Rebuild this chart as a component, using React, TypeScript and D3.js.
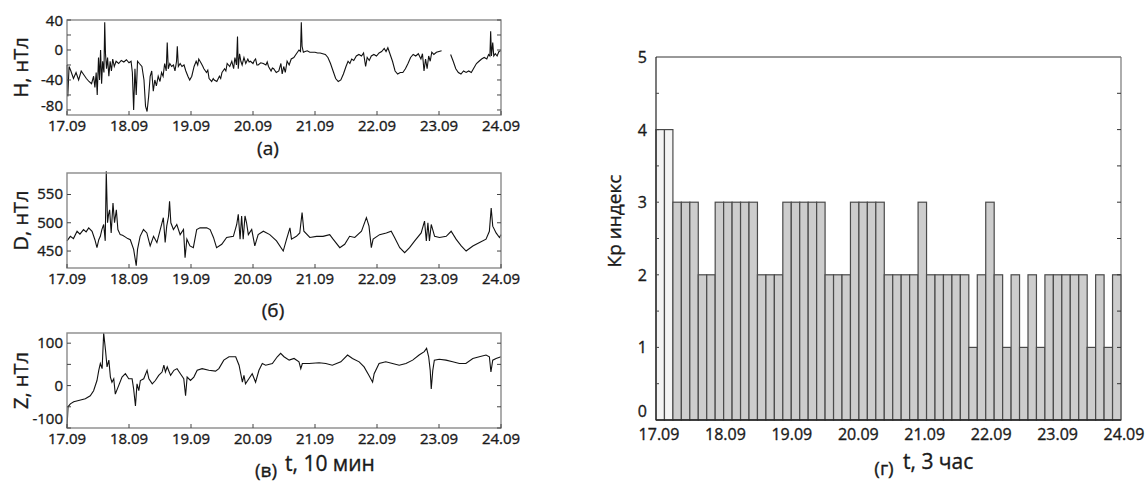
import React from 'react';
import * as d3 from 'd3';

// day ticks shared by all four panels
const dayLabels = ['17.09', '18.09', '19.09', '20.09', '21.09', '22.09', '23.09', '24.09'];

// [hours since 17.09 00:00, nT]; null = data gap
const hSeries: [number, number | null][] = [
  [0, -20], [0.3, -62], [0.8, -22], [1.5, -28], [2.5, -38], [3.5, -30], [4.5, -40], [5.5, -28],
  [6.5, -33], [7.5, -38], [8.5, -42], [9.5, -45], [10.3, -35], [10.8, -50], [11.3, -30], [11.7, -60],
  [12.2, -10], [12.6, -40], [13, 0], [13.4, -45], [13.8, -15], [14.3, -30], [14.6, 37], [14.9, -5],
  [15.3, -25], [15.7, -10], [16.2, -35], [16.7, -15], [17.2, -28], [17.7, -12], [18.3, -22], [19, -15],
  [20, -18], [21, -14], [22, -16], [23, -13], [24, -17], [24.8, -15], [25.3, -30], [25.8, -80],
  [26.3, -25], [26.8, -60], [27.3, -15], [28, -18], [29, -22], [29.8, -40], [30.4, -75], [31, -82],
  [31.6, -62], [32.2, -35], [32.8, -28], [33.4, -55], [34, -40], [34.6, -48], [35.3, -35], [36, -42],
  [36.6, -30], [37.2, -35], [37.8, -18], [38.4, -28], [38.8, 10], [39.2, -25], [39.8, -18], [40.5, -22],
  [41.2, -20], [41.8, -28], [42.4, -15], [42.7, 5], [43.1, -22], [43.8, -18], [44.5, -22], [45.3, -20],
  [46, -28], [46.8, -35], [47.5, -40], [48.3, -35], [49.2, -22], [50, -15], [50.6, -20], [51, -12],
  [52, -18], [52.6, -22], [53, -25], [54, -30], [54.5, -27], [55, -38], [56, -42], [56.6, -38],
  [57, -40], [58, -42], [59, -35], [59.5, -38], [60, -30], [61, -25], [61.5, -28], [62, -18],
  [63, -22], [63.8, -15], [64.5, -25], [65, -10], [65.6, -20], [66, 18], [66.3, -25], [66.8, -5],
  [67.3, -15], [67.8, -20], [68.5, -10], [69.2, -18], [70, -12], [70.5, -16], [71, -15], [72, -18],
  [72.5, -14], [73, -12], [73.5, -20], [74, -20], [75, -17], [76, -18], [77, -20], [77.5, -16],
  [78, -22], [79, -28], [79.5, -24], [80, -25], [81, -30], [82, -28], [82.8, -18], [83.3, -32],
  [83.9, -22], [84.5, -30], [85.2, -15], [86, -20], [86.8, -12], [87.8, -10], [88.8, -5], [89.8, 0],
  [90.4, -2], [90.7, 37], [91, 5], [91.5, -3], [92.2, -2], [93, -1], [94, -3], [95, -3],
  [96, -3], [97, -4], [98, -4], [99, -5], [100, -6], [101, -10], [102, -18], [103, -28],
  [104, -38], [105, -42], [106, -40], [107, -32], [108, -22], [108.8, -15], [109.5, -18], [110.2, -12],
  [111, -14], [112, -8], [113, -6], [114, -8], [114.8, -4], [115.6, -22], [116.2, -10], [117, -14],
  [117.8, -8], [118.8, -6], [119.8, -8], [120.8, -4], [121.8, -2], [122.8, 2], [123.5, -2], [124.2, 3],
  [125, -5], [126, -15], [127, -28], [128, -32], [129, -30], [130, -30], [131, -25], [132, -18],
  [133, -10], [134, -6], [135, -8], [136, -5], [137, -12], [137.6, -5], [138.2, -28], [138.8, -12],
  [139.4, -25], [140, -8], [140.6, -15], [141.2, -3], [142, -6], [143, -3], [144, -2], [145, -1],
  [146.5, null], [148.5, -6], [149.5, -15], [150.5, -25], [151.5, -30], [152.5, -32], [153.5, -28], [154.5, -30],
  [155.5, -28], [156.5, -30], [157.5, -24], [158.5, -18], [159.5, -15], [160.5, -12], [161.5, -10], [162.5, -12],
  [163.2, -6], [163.7, -8], [164, 25], [164.3, -8], [164.8, 10], [165.2, -8], [165.8, -5], [166.5, -8],
  [167.2, -2], [168, -1],
];

const dSeries: [number, number | null][] = [
  [0, 468], [1.3, 476], [2.5, 472], [3.9, 485], [5, 480], [6.4, 488], [7.4, 484], [8.4, 491],
  [9.7, 485], [10.8, 470], [11.6, 456], [12.3, 470], [12.9, 476], [13.5, 488], [14.2, 497], [14.8, 468],
  [15.2, 591], [15.7, 500], [16.1, 515], [16.5, 523], [17.1, 482], [17.8, 535], [18.4, 500], [19.1, 523],
  [19.7, 488], [20.6, 479], [21.5, 478], [22.5, 475], [23.5, 472], [24.5, 470], [25.8, 453], [26.8, 424],
  [27.3, 453], [28.3, 476], [29.6, 488], [30.9, 482], [32.2, 459], [33.5, 476], [34.8, 465], [36.1, 488],
  [37.3, 509], [38, 465], [38.6, 494], [39.3, 511], [39.7, 538], [40.2, 500], [41.2, 488], [42.5, 497],
  [43.8, 479], [45.1, 488], [45.7, 438], [46.4, 471], [47.6, 459], [48.9, 456], [50.2, 488], [51.5, 491],
  [54.1, 491], [55.4, 488], [56.7, 474], [57.9, 456], [59.9, 462], [61.8, 474], [64.4, 476], [65.7, 497],
  [66.3, 515], [67, 471], [67.6, 512], [68.2, 471], [68.9, 512], [69.5, 500], [70.2, 479], [71.5, 488],
  [72.7, 459], [74, 479], [76, 485], [78.5, 479], [81.1, 468], [83.7, 450], [85, 471], [86.3, 491],
  [86.9, 471], [88.8, 476], [90.1, 482], [91, 518], [91.7, 485], [94, 474], [96.6, 476], [99.1, 476],
  [101.7, 479], [103, 471], [105.6, 456], [107.5, 462], [109.4, 476], [111.4, 474], [114, 485], [115.9, 509],
  [116.9, 494], [117.8, 456], [118.5, 471], [121, 479], [123.6, 482], [125.5, 485], [126.8, 474], [128.8, 456],
  [130.7, 447], [132.6, 456], [134.6, 468], [137.1, 482], [138.4, 503], [139.1, 468], [139.7, 500], [140.3, 468],
  [141, 497], [142.3, 476], [144.2, 474], [146.8, 476], [148.7, 485], [150.6, 471], [152.6, 459], [154.5, 450],
  [157.1, 459], [159.7, 465], [162.2, 471], [163.5, 485], [164.2, 526], [164.8, 494], [166.1, 482], [167.4, 474],
  [168, 479],
];

const zSeries: [number, number | null][] = [
  [0, -100], [0.4, -50], [1.3, -43], [2.6, -38], [4.5, -35], [7.1, -31], [9, -24], [10.3, -12],
  [11.6, 12], [12.3, 36], [12.9, 52], [13.6, 40], [14.2, 124], [14.9, 84], [15.5, 44], [16.2, 60],
  [16.8, 20], [17.4, 8], [18.1, 16], [18.7, -20], [20, 0], [21.3, 20], [22.6, 28], [23.9, 16],
  [25.2, 16], [25.8, -8], [26.5, -48], [27.1, 4], [27.8, -12], [28.4, 12], [29.7, 16], [31, 36],
  [31.7, 16], [33, 4], [34.2, 12], [35.5, 24], [36.8, 32], [37.5, 48], [38.1, 32], [38.8, 44],
  [40.1, 24], [41.4, 36], [42.6, 40], [43.9, 28], [45.2, 16], [45.9, -24], [46.5, 20], [47.8, 12],
  [49.1, 20], [50.4, 36], [52.3, 40], [54.9, 36], [57.5, 34], [58.8, 40], [60.7, 60], [62.7, 68],
  [65.3, 68], [66.6, 48], [67.9, 8], [68.5, 24], [69.1, 4], [70.4, 16], [71.7, 28], [73, 8],
  [74.3, 36], [75.6, 52], [76.9, 48], [79.5, 52], [81.4, 68], [82.7, 76], [84, 68], [86, 60],
  [87.9, 64], [89.8, 56], [90.5, 40], [91.1, 52], [93.7, 52], [97.6, 54], [100.2, 52], [102.7, 48],
  [106, 56], [108.6, 72], [110.5, 64], [113.1, 56], [115, 44], [116.9, 24], [118.3, 8], [118.9, 28],
  [120.8, 52], [123.4, 56], [126, 52], [128.6, 48], [131.2, 52], [133.8, 60], [136.3, 72], [138.3, 80],
  [139.2, 88], [140, 68], [140.6, 36], [141, -8], [141.6, 36], [142.2, 60], [144.1, 62], [146.7, 60],
  [149.3, 56], [151.9, 52], [154.4, 52], [157.1, 64], [159.6, 68], [162.2, 72], [163.5, 68], [164.1, 32],
  [164.8, 60], [166.1, 64], [168, 68],
];

// 3-hour Kp index
const kpValues = [
  4, 4, 3, 3, 3, 2, 2, 3, 3, 3, 3, 3, 2, 2, 2, 3, 3, 3, 3, 3, 2, 2, 2, 3, 3, 3, 3, 2,
  2, 2, 2, 3, 2, 2, 2, 2, 2, 1, 2, 3, 2, 1, 2, 1, 2, 1, 2, 2, 2, 2, 2, 1, 2, 1, 2,
];
const kpTicks = [0, 1, 2, 3, 4, 5];

const FONT = '"Open Sans", "Noto Sans", sans-serif';
const INK = '#1a1a1a';
// slight outline so the text reads as heavy as the scanned figure
const txt = { fill: INK, stroke: INK, strokeWidth: 0.35 };

type PanelProps = {
  data: [number, number | null][];
  top: number;
  bottom: number;
  yDomain: [number, number];
  yTicks: number[];
  yMinor: number[];
  yLabel: string;
};

function SeriesPanel({ data, top, bottom, yDomain, yTicks, yMinor, yLabel }: PanelProps) {
  const left = 67, right = 501;
  const x = d3.scaleLinear().domain([0, 168]).range([left, right]);
  const y = d3.scaleLinear().domain(yDomain).range([bottom, top]);
  const line = d3.line<[number, number | null]>()
    .defined(d => d[1] !== null)
    .x(d => x(d[0]))
    .y(d => y(d[1] as number));
  const all = [...yTicks, ...yMinor];
  return (
    <g>
      <path d={line(data) || ''} fill="none" stroke="#111" strokeWidth={1.1} />
      <rect x={left} y={top} width={right - left} height={bottom - top} fill="none" stroke="#8a8a8a" strokeWidth={1.4} />
      {all.map(t => (
        <g key={t}>
          <line x1={left} x2={left + 4} y1={y(t)} y2={y(t)} stroke="#444" />
          <line x1={right - 4} x2={right} y1={y(t)} y2={y(t)} stroke="#444" />
        </g>
      ))}
      {yTicks.map(t => (
        <text key={t} x={left - 4} y={Math.max(Math.min(y(t) + 5, bottom - 4), top + 6)}
          textAnchor="end" fontSize={15} {...txt}>{t}</text>
      ))}
      {dayLabels.map((d, i) => (
        <g key={d}>
          <line x1={x(i * 24)} x2={x(i * 24)} y1={bottom} y2={bottom - 4} stroke="#444" />
          <text x={x(i * 24)} y={bottom + 16} textAnchor="middle" fontSize={15} {...txt}>{d}</text>
        </g>
      ))}
      <text transform={`translate(28,${(top + bottom) / 2}) rotate(-90)`} textAnchor="middle" fontSize={20} {...txt}>{yLabel}</text>
    </g>
  );
}

function KpChart() {
  const left = 656, right = 1121, top = 57, bottom = 420;
  const xb = d3.scaleBand<number>().domain(d3.range(kpValues.length)).range([left, right]).paddingInner(0);
  const xt = d3.scaleLinear().domain([0, 168]).range([left, right]);
  const y = d3.scaleLinear().domain([0, 5]).range([bottom, top]);
  const halfTicks = d3.range(0.5, 5, 0.5);
  return (
    <g>
      {kpValues.map((v, i) => (
        <rect key={i} x={xb(i)} y={y(v)} width={xb.bandwidth()} height={bottom - y(v)}
          fill={i < 2 ? '#f4f4f4' : '#cdcdcd'} stroke="#4a4a4a" strokeWidth={1.2} />
      ))}
      <line x1={left} x2={right} y1={top} y2={top} stroke="#333" strokeWidth={1} />
      <line x1={left} x2={left} y1={top} y2={bottom} stroke="#222" strokeWidth={1.2} />
      <line x1={right} x2={right} y1={top} y2={bottom} stroke="#777" strokeWidth={1.2} />
      <line x1={left} x2={right} y1={bottom} y2={bottom} stroke="#222" strokeWidth={1.3} />
      {halfTicks.map(t => (
        <g key={t}>
          <line x1={left} x2={left + 3} y1={y(t)} y2={y(t)} stroke="#444" />
          <line x1={right - 4} x2={right} y1={y(t)} y2={y(t)} stroke="#333" />
        </g>
      ))}
      {kpTicks.map(t => (
        <text key={t} x={left - 9} y={t === 0 ? y(t) - 3 : y(t) + 6} textAnchor="end" fontSize={16} {...txt}>{t}</text>
      ))}
      {dayLabels.map((d, i) => (
        <text key={d} x={xt(i * 24) + 3} y={bottom + 20} textAnchor="middle" fontSize={16} {...txt}>{d}</text>
      ))}
      <text transform={`translate(621,221) rotate(-90)`} textAnchor="middle" fontSize={19} {...txt}>Кр индекс</text>
      <text x={884} y={475} textAnchor="middle" fontSize={19} {...txt}>(г)</text>
      <text x={903} y={469} fontSize={21} {...txt}>t, 3 час</text>
    </g>
  );
}

export default function App() {
  return (
    <svg width={1145} height={486} fontFamily={FONT}
      style={{ position: 'absolute', left: 0, top: 0, background: '#fff' }}>
      <SeriesPanel data={hSeries} top={20} bottom={115} yDomain={[-86.7, 40]}
        yTicks={[40, 0, -40, -80]} yMinor={[20, -20, -60]} yLabel="H, нТл" />
      <text x={268} y={155} textAnchor="middle" fontSize={19} {...txt}>(a)</text>

      <SeriesPanel data={dSeries} top={173} bottom={268} yDomain={[420, 588]}
        yTicks={[550, 500, 450]} yMinor={[]} yLabel="D, нТл" />
      <text x={273} y={317} textAnchor="middle" fontSize={19} {...txt}>(б)</text>

      <SeriesPanel data={zSeries} top={333} bottom={428} yDomain={[-100, 124]}
        yTicks={[100, 0, -100]} yMinor={[50, -50]} yLabel="Z, нТл" />
      <text x={266} y={477} textAnchor="middle" fontSize={19} {...txt}>(в)</text>
      <text x={285} y={471} fontSize={21} {...txt}>t, 10 мин</text>

      <KpChart />
    </svg>
  );
}
